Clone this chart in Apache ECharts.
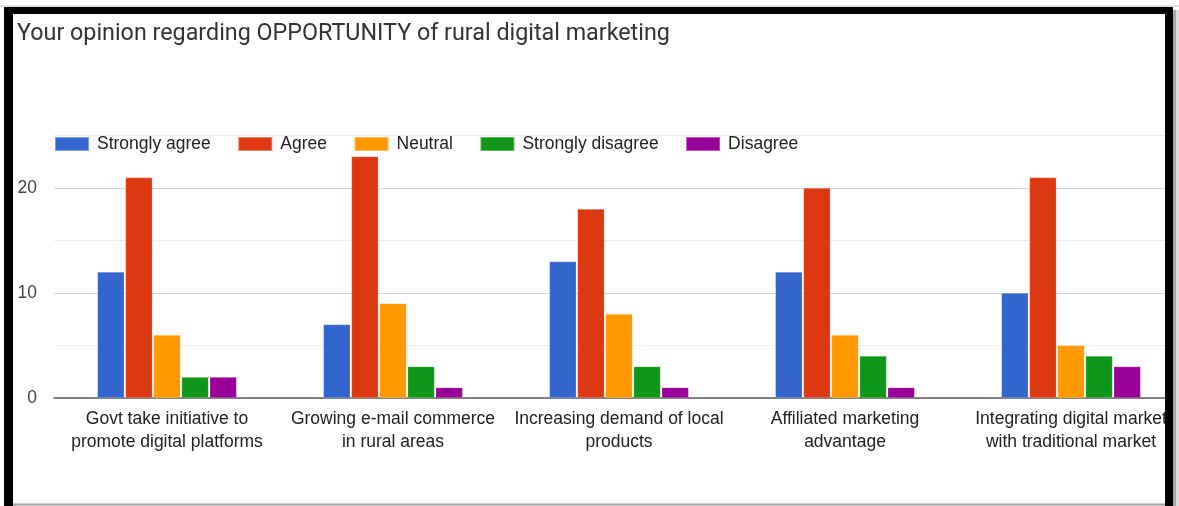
<!DOCTYPE html>
<html>
<head>
<meta charset="utf-8">
<script src="https://cdn.jsdelivr.net/npm/echarts@6/dist/echarts.min.js"></script>
<style>
  html, body { margin: 0; padding: 0; background: #fff; overflow: hidden; }
  /* canvas is a little wider than the window: the plot runs under the right frame */
  #chart { width: 1190px; height: 506px; }
</style>
</head>
<body>
<div id="chart"></div>
<script>
// Survey responses: opinion on opportunities of rural digital marketing
const categories = [
  'Govt take initiative to\npromote digital platforms',
  'Growing e-mail commerce\nin rural areas',
  'Increasing demand of local\nproducts',
  'Affiliated marketing\nadvantage',
  'Integrating digital market\nwith traditional market'
];
const stronglyAgree    = [12, 7, 13, 12, 10];
const agree            = [21, 23, 18, 20, 21];
const neutral          = [6, 9, 8, 6, 5];
const stronglyDisagree = [2, 3, 3, 4, 4];
const disagree         = [2, 1, 1, 1, 3];
const yTicks = [0, 10, 20];

const seriesDefs = [
  { name: 'Strongly agree', data: stronglyAgree, color: '#3366cc' },
  { name: 'Agree', data: agree, color: '#dc3912' },
  { name: 'Neutral', data: neutral, color: '#ff9900' },
  { name: 'Strongly disagree', data: stronglyDisagree, color: '#109618' },
  { name: 'Disagree', data: disagree, color: '#990099' }
];

const font = '"Liberation Sans", Arial, sans-serif';
const chart = echarts.init(document.getElementById('chart'), null, { renderer: 'canvas' });

chart.setOption({
  animation: false,
  backgroundColor: '#ffffff',
  title: {
    text: 'Your opinion regarding OPPORTUNITY of rural digital marketing',
    left: 12,
    top: 18,
    textStyle: { fontFamily: 'Roboto', fontWeight: 'normal', fontSize: 23.3, color: '#333333' }
  },
  legend: {
    left: 49,
    top: 130,
    itemWidth: 34,
    itemHeight: 14,
    itemGap: 26.5,
    icon: 'rect',
    textStyle: { fontFamily: font, fontSize: 17.5, color: '#222222', padding: [0, 0, 0, 3] },
    data: seriesDefs.map(s => s.name)
  },
  grid: { left: 54, right: 6, top: 135.5, bottom: 108, containLabel: false },
  xAxis: {
    type: 'category',
    data: categories,
    axisLine: { lineStyle: { color: '#5f5f5f', width: 1.5 } },
    axisTick: { show: false },
    axisLabel: {
      fontFamily: font, fontSize: 17.5, color: '#222222',
      lineHeight: 23, margin: 10, interval: 0
    }
  },
  yAxis: {
    type: 'value',
    min: 0,
    max: 25,
    interval: 5,
    axisLine: { show: false },
    axisTick: { show: false },
    axisLabel: {
      fontFamily: font, fontSize: 17.5, color: '#444444', margin: 17,
      formatter: v => (yTicks.indexOf(v) >= 0 ? String(v) : '')
    },
    splitLine: { lineStyle: { color: ['#d6d6d6', '#ececec'], width: 1.2 } }
  },
  series: seriesDefs.map(s => ({
    name: s.name,
    type: 'bar',
    data: s.data,
    barWidth: 27,
    barGap: '4%',
    itemStyle: { color: s.color, borderColor: 'rgba(255,255,255,0.35)', borderWidth: 0.6 }
  })),
  graphic: [
    // page frame around the chart
    { type: 'rect', z: 100, shape: { x: 0, y: 5.5, width: 1190, height: 1 }, style: { fill: '#c4c4c4' } },
    { type: 'rect', z: 100, shape: { x: 4, y: 7, width: 1169, height: 7 }, style: { fill: '#000' } },
    { type: 'rect', z: 100, shape: { x: 4, y: 7, width: 9, height: 499 }, style: { fill: '#000' } },
    { type: 'rect', z: 100, shape: { x: 1165, y: 7, width: 8, height: 499 }, style: { fill: '#000' } },
    { type: 'rect', z: 100, shape: { x: 1173, y: 7, width: 17, height: 499 }, style: { fill: '#ffffff' } },
    { type: 'rect', z: 101, shape: { x: 1173, y: 10, width: 3, height: 496 }, style: { fill: '#a8a8a8' } },
    { type: 'rect', z: 101, shape: { x: 1176, y: 10, width: 3, height: 496 }, style: { fill: '#dcdcdc' } },
    { type: 'rect', z: 100, shape: { x: 13, y: 503.5, width: 1152, height: 2 }, style: { fill: '#a0a0a0' } }
  ]
});
</script>
</body>
</html>
